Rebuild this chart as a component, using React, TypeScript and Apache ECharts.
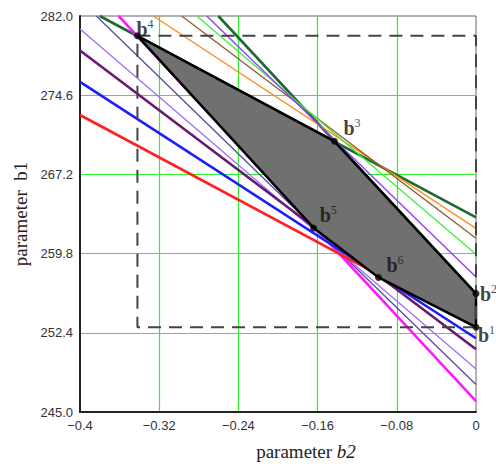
import React, { useEffect, useRef } from "react";
import * as echarts from "echarts";

// Vertices of the feasible region (parameter b2, parameter b1)
const vertexNames = ["b1", "b2", "b3", "b4", "b5", "b6"];
const vertexB2 = [0, 0, -0.143, -0.342, -0.164, -0.0985];
const vertexB1 = [252.92, 256.06, 270.29, 280.15, 262.2, 257.57];
// polygon drawing order (indices into vertex arrays)
const polygonOrder = [3, 2, 1, 0, 5, 4];

// Constraint lines: start / end points (b2, b1)
const lineNames = [
  "darkgreen1", "darkgreen2", "orange", "brown", "lightgreen", "purple",
  "magenta", "slate", "lightpurple", "darkpurple", "blue", "red",
];
const lineStartB2 = [-0.38, -0.2603, -0.326, -0.2973, -0.2821, -0.272, -0.361, -0.3835, -0.4, -0.4, -0.4, -0.4];
const lineStartB1 = [282, 282, 282, 282, 282, 282, 282, 282, 280.79, 278.78, 275.85, 272.75];
const lineEndB2 = [0, 0, 0, 0, 0, 0, 0, 0, 0, 0, 0, 0];
const lineEndB1 = [263.18, 256.06, 262.16, 261.23, 259.74, 257.61, 246.02, 247.57, 249.02, 250.87, 251.89, 252.95];

// styles
const lineColors = [
  "#1b6b30", "#1b6b30", "#ff8a1c", "#8b5a2b", "#3cf03c", "#9445f5",
  "#ff1aff", "#5a4a9c", "#a36bff", "#6a1a6e", "#1c1cff", "#ff2020",
];
const lineWidths = [2.6, 2.6, 1.3, 1.3, 1.3, 1.5, 2.6, 1.3, 1.3, 2.6, 2.6, 2.6];
const labelOffsets: number[][] = [
  [2, 19], [4, 11], [9, -2], [-1, 4], [6, -2], [8, -1],
];

const App: React.FC = () => {
  const ref = useRef<HTMLDivElement>(null);

  useEffect(() => {
    if (!ref.current) return;
    const chart = echarts.init(ref.current, undefined, { renderer: "svg" });

    const b4 = [vertexB2[3], vertexB1[3]];
    const b1 = [vertexB2[0], vertexB1[0]];
    const boxData = [
      [b4[0], b4[1]],
      [0, b4[1]],
      [0, b1[1]],
      [b4[0], b1[1]],
      [b4[0], b4[1]],
    ];

    const polyData = polygonOrder.map((i) => [vertexB2[i], vertexB1[i]]);

    const lineSeries = lineNames.map((n, i) => ({
      name: n,
      type: "line",
      data: [
        [lineStartB2[i], lineStartB1[i]],
        [lineEndB2[i], lineEndB1[i]],
      ],
      showSymbol: false,
      symbol: "none",
      clip: true,
      lineStyle: { color: lineColors[i], width: lineWidths[i] },
      z: 2,
      silent: true,
    }));

    const serif = "'Liberation Serif', 'DejaVu Serif', serif";
    const sans = "'Liberation Sans', Arial, sans-serif";

    const option: any = {
      animation: false,
      grid: {
        left: 80,
        right: 20,
        top: 16,
        bottom: 51,
        show: true,
        borderColor: "#666",
        borderWidth: 1,
        backgroundColor: "#fff",
      },
      xAxis: {
        type: "value",
        min: -0.4,
        max: 0,
        interval: 0.08,
        axisLine: { show: true, onZero: false, lineStyle: { color: "#222", width: 2 } },
        axisTick: { show: false },
        axisLabel: {
          color: "#333",
          fontFamily: sans,
          fontSize: 13,
          margin: 7,
          formatter: (v: number) => {
            const r = Math.round(v * 100) / 100;
            return r === 0 ? "0" : "\u2212" + String(Math.abs(r));
          },
        },
        splitLine: {
          show: true,
          showMinLine: false,
          showMaxLine: false,
          lineStyle: { color: "#2ef02e", width: 1.2 },
        },
        name: "parameter {i|b2}",
        nameLocation: "middle",
        nameGap: 30,
        nameTextStyle: {
          fontFamily: serif,
          fontSize: 19,
          color: "#222",
          padding: [0, 0, 0, 56],
          rich: {
            i: { fontFamily: serif, fontStyle: "italic", fontSize: 19, color: "#222" },
          },
        },
      },
      yAxis: {
        type: "value",
        min: 245,
        max: 282,
        interval: 7.4,
        axisLine: { show: true, onZero: false, lineStyle: { color: "#222", width: 2 } },
        axisTick: { show: false },
        axisLabel: {
          color: "#333",
          fontFamily: sans,
          fontSize: 13,
          margin: 7,
          formatter: (v: number) => v.toFixed(1),
        },
        splitLine: {
          show: true,
          showMinLine: false,
          showMaxLine: false,
          lineStyle: { color: "#2ef02e", width: 1.2 },
        },
        name: "parameter  b1",
        nameLocation: "middle",
        nameGap: 46,
        nameRotate: 90,
        nameTextStyle: { fontFamily: serif, fontSize: 19, color: "#222" },
      },
      series: [
        ...lineSeries,
        {
          name: "region",
          type: "custom",
          data: polyData,
          z: 3,
          silent: true,
          renderItem: (params: any, api: any) => {
            if (params.dataIndex !== 0) return null;
            const pts = polyData.map((p) => api.coord(p));
            return {
              type: "polygon",
              shape: { points: pts },
              style: { fill: "#707070", stroke: "#000", lineWidth: 2.5 },
            };
          },
        },
        {
          name: "box",
          type: "line",
          data: boxData,
          showSymbol: false,
          symbol: "none",
          clip: false,
          z: 4,
          silent: true,
          lineStyle: { color: "#444", width: 2, type: [13, 8] },
        },
        {
          name: "vertices",
          type: "scatter",
          z: 5,
          symbolSize: 7,
          itemStyle: { color: "#000" },
          data: vertexNames.map((n, i) => ({
            name: n,
            value: [vertexB2[i], vertexB1[i]],
            label: {
              show: true,
              position: "inside",
              align: "left",
              verticalAlign: "bottom",
              offset: labelOffsets[i],
              formatter: "{b|b}{s|" + n.slice(1) + "}",
              rich: {
                b: { fontFamily: serif, fontWeight: "bold", fontSize: 20, color: "#111", lineHeight: 22 },
                s: { fontFamily: serif, fontSize: 12, color: "#111", verticalAlign: "top", lineHeight: 12 },
              },
            },
          })),
        },
      ],
    };

    chart.setOption(option);
    return () => chart.dispose();
  }, []);

  return (
    <div
      ref={ref}
      style={{ position: "absolute", left: 0, top: 0, width: 496, height: 466, background: "#fff" }}
    />
  );
};

export default App;
